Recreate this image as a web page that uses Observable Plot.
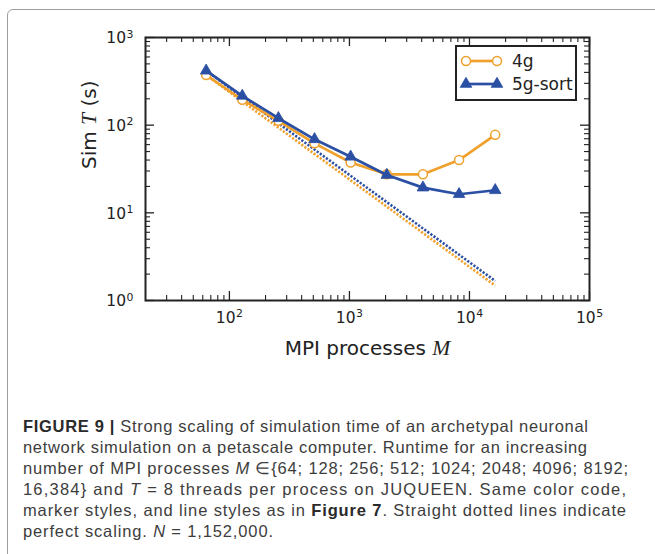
<!DOCTYPE html>
<html>
<head>
<meta charset="utf-8">
<script src="https://cdn.jsdelivr.net/npm/d3@7"></script>
<script src="https://cdn.jsdelivr.net/npm/@observablehq/plot@0.6"></script>
<style>
html, body { margin: 0; padding: 0; background: #fff; overflow: hidden; }
#wrap { position: relative; width: 655px; height: 554px; overflow: hidden; background: #fff; }
#border { position: absolute; left: 7px; top: 9px; width: 800px; height: 700px; border: 1.5px solid #9d9d9d; border-radius: 6px; }
#chart { position: absolute; left: 0; top: 0; }
#legend { position: absolute; left: 455px; top: 45px; width: 118px; height: 52px; border: 2px solid #222; background: #fff; }
#caption { position: absolute; left: 23px; top: 416px; font-family: "Liberation Sans", Arial, sans-serif; color: #3d3d3d; white-space: nowrap; line-height: 21px; font-size: 16.5px; }
#caption div { display: block; width: max-content; }
#caption b { color: #2a2a2a; }
</style>
</head>
<body>
<div id="wrap">
  <div id="border"></div>
  <div id="chart"></div>
  <div id="legend"></div>
  <div id="caption"></div>
</div>
<script>
// ---- data ----
const processes = [64, 128, 256, 512, 1024, 2048, 4096, 8192, 16384];
const time4g = [373, 195, 112, 62, 37.5, 27.5, 27.5, 40, 77.5];
const time5gSort = [418, 216, 120, 69, 43.6, 27, 19.4, 16.3, 18.1];
// perfect-scaling dotted lines (end points)
const idealProcesses = [64, 16384];
const ideal4g = [373, 1.48];
const ideal5gSort = [418, 1.67];
const seriesNames = ["4g", "5g-sort"];
const seriesColors = ["#F0A02C", "#2B4FA3"];
// ticks
const xTicks = [1e2, 1e3, 1e4, 1e5];
const xTickLabels = ["10^2", "10^3", "10^4", "10^5"];
const yTicks = [1, 10, 100, 1000];
const yTickLabels = ["10^0", "10^1", "10^2", "10^3"];
const xLabel = "MPI processes {M}";
const yLabel = "Sim {T} (s)";
const captionLines = [
  "<b>FIGURE 9 |</b> Strong scaling of simulation time of an archetypal neuronal",
  "network simulation on a petascale computer. Runtime for an increasing",
  "number of MPI processes <i>M</i> \u2208{64; 128; 256; 512; 1024; 2048; 4096; 8192;",
  "16,384} and <i>T</i> = 8 threads per process on JUQUEEN. Same color code,",
  "marker styles, and line styles as in <b>Figure 7</b>. Straight dotted lines indicate",
  "perfect scaling. <i>N</i> = 1,152,000."
];
// right ends of the caption lines in the reference (layout only)
const captionLineEnds = [588, 587, 628, 626, 626, 273];

// ---- derived tables ----
const rows4g = processes.map((m, i) => ({m, t: time4g[i]}));
const rows5g = processes.map((m, i) => ({m, t: time5gSort[i]}));
const idealRows4g = idealProcesses.map((m, i) => ({m, t: ideal4g[i]}));
const idealRows5g = idealProcesses.map((m, i) => ({m, t: ideal5gSort[i]}));
const xDomain = [20, 1e5];
const yDomain = [1, 1000];
const minor = (lo, hi) => {
  const out = [];
  for (let d = 1; d <= hi; d *= 10) for (let k = 2; k <= 9; k++) { const v = k * d; if (v > lo && v < hi) out.push(v); }
  return out;
};
const xMinor = minor(xDomain[0], xDomain[1]);
const yMinor = minor(yDomain[0], yDomain[1]);

const width = 655, height = 370, mT = 37, mB = 70, mL = 145, mR = 66;
const H = height - mT - mB, W = width - mL - mR;
const ink = "#222";
const majLen = 9, minLen = 5;
const dotted = {strokeWidth: 2.6, strokeDasharray: "2.2,1.6", strokeLinecap: "butt"};

const plot = Plot.plot({
  width, height,
  marginTop: mT, marginBottom: mB, marginLeft: mL, marginRight: mR,
  x: {type: "log", domain: xDomain, axis: null},
  y: {type: "log", domain: yDomain, axis: null},
  style: {background: "transparent", overflow: "visible"},
  marks: [
    Plot.line(idealRows4g, {x: "m", y: "t", stroke: seriesColors[0], ...dotted}),
    Plot.line(idealRows5g, {x: "m", y: "t", stroke: seriesColors[1], ...dotted}),
    Plot.line(rows4g, {x: "m", y: "t", stroke: seriesColors[0], strokeWidth: 2.7}),
    Plot.dot(rows4g, {x: "m", y: "t", r: 4.5, fill: "white", stroke: seriesColors[0], strokeWidth: 1.5}),
    Plot.line(rows5g, {x: "m", y: "t", stroke: seriesColors[1], strokeWidth: 2.7}),
    Plot.dot(rows5g, {x: "m", y: "t", symbol: "triangle", r: 4.3, fill: seriesColors[1], stroke: seriesColors[1], strokeWidth: 0.8}),
    // inward ticks on all four sides
    Plot.tickX(xTicks, {x: d => d, insetTop: H - majLen, stroke: ink, strokeWidth: 1.3}),
    Plot.tickX(xMinor, {x: d => d, insetTop: H - minLen, stroke: ink, strokeWidth: 1.1}),
    Plot.tickX(xTicks, {x: d => d, insetBottom: H - majLen, stroke: ink, strokeWidth: 1.3}),
    Plot.tickX(xMinor, {x: d => d, insetBottom: H - minLen, stroke: ink, strokeWidth: 1.1}),
    Plot.tickY(yTicks, {y: d => d, insetRight: W - majLen, stroke: ink, strokeWidth: 1.3}),
    Plot.tickY(yMinor, {y: d => d, insetRight: W - minLen, stroke: ink, strokeWidth: 1.1}),
    Plot.tickY(yTicks, {y: d => d, insetLeft: W - majLen, stroke: ink, strokeWidth: 1.3}),
    Plot.tickY(yMinor, {y: d => d, insetLeft: W - minLen, stroke: ink, strokeWidth: 1.1}),
    Plot.frame({stroke: ink, strokeWidth: 2}),
    // tick labels
    Plot.text(xTicks, {x: d => d, frameAnchor: "bottom", dy: 22, text: (d, i) => xTickLabels[i], fontFamily: "DejaVu Sans", fontSize: 15.5, fill: ink}),
    Plot.text(yTicks, {y: d => d, frameAnchor: "left", dx: -12, dy: 1, textAnchor: "end", text: (d, i) => yTickLabels[i], fontFamily: "DejaVu Sans", fontSize: 15.5, fill: ink}),
    // axis labels
    Plot.text([xLabel], {frameAnchor: "bottom", dy: 54, fontFamily: "DejaVu Sans", fontSize: 20, fill: ink}),
    Plot.text([yLabel], {frameAnchor: "left", dx: -56, rotate: -90, fontFamily: "DejaVu Sans", fontSize: 20, fill: ink})
  ]
});

// superscripts and italic math symbols as tspans
const NS = "http://www.w3.org/2000/svg";
plot.querySelectorAll("text").forEach(t => {
  const s = t.textContent;
  if (s.includes("^")) {
    const [base, exp] = s.split("^");
    t.textContent = base;
    const sp = document.createElementNS(NS, "tspan");
    sp.setAttribute("font-size", "0.7em");
    sp.setAttribute("dy", "-0.55em");
    sp.setAttribute("dx", "0.05em");
    sp.textContent = exp;
    t.appendChild(sp);
  } else if (s.includes("{")) {
    t.textContent = "";
    s.split(/(\{[^}]*\})/).forEach(part => {
      if (!part) return;
      const sp = document.createElementNS(NS, "tspan");
      if (part.startsWith("{")) {
        sp.textContent = part.slice(1, -1);
        sp.setAttribute("font-family", "Liberation Serif");
        sp.setAttribute("font-style", "italic");
        sp.setAttribute("font-size", "1.08em");
      } else sp.textContent = part;
      t.appendChild(sp);
    });
  }
});
document.getElementById("chart").appendChild(plot);

// legend
const lg = d3.select("#legend").append("svg").attr("width", 118).attr("height", 52);
seriesNames.forEach((name, i) => {
  const cy = i === 0 ? 14 : 37;
  const g = lg.append("g");
  g.append("line").attr("x1", 9).attr("x2", 40).attr("y1", cy).attr("y2", cy)
    .attr("stroke", seriesColors[i]).attr("stroke-width", 2.7);
  [9, 40].forEach(cx => {
    if (i === 0) {
      g.append("circle").attr("cx", cx).attr("cy", cy).attr("r", 4.5)
        .attr("fill", "white").attr("stroke", seriesColors[i]).attr("stroke-width", 1.5);
    } else {
      g.append("path").attr("transform", `translate(${cx},${cy})`)
        .attr("d", d3.symbol(d3.symbolTriangle, Math.PI * 4.3 * 4.3)())
        .attr("fill", seriesColors[i]).attr("stroke", seriesColors[i]).attr("stroke-width", 0.8);
    }
  });
  g.append("text").attr("x", 55).attr("y", cy).attr("dy", "0.35em")
    .attr("font-family", "DejaVu Sans").attr("font-size", 17).attr("fill", ink).text(name);
});

// caption
const cap = document.getElementById("caption");
const capLeft = 23;
captionLines.forEach((l, i) => {
  const d = document.createElement("div");
  d.innerHTML = l;
  cap.appendChild(d);
  const natural = d.getBoundingClientRect().width;
  const target = captionLineEnds[i] - capLeft;
  const n = d.textContent.length - 1;
  d.style.letterSpacing = ((target - natural) / n).toFixed(3) + "px";
});
</script>
</body>
</html>
